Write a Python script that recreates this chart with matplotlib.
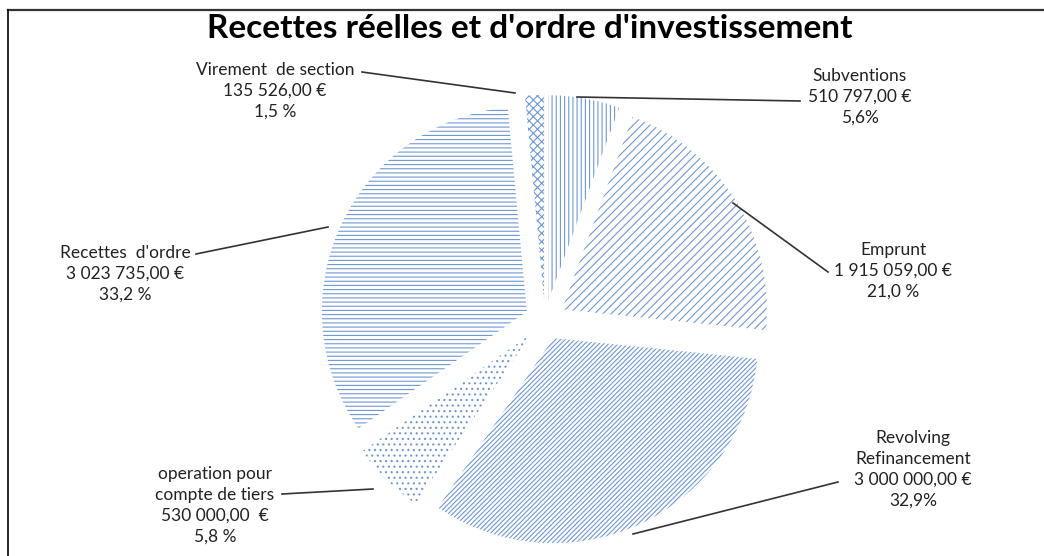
import matplotlib
matplotlib.use('Agg')
import matplotlib.pyplot as plt
from matplotlib.lines import Line2D

plt.rcParams['font.family'] = ['Lato', 'DejaVu Sans']
plt.rcParams['hatch.linewidth'] = 0.8

# Data (clockwise from 12 o'clock)
labels = ['Subventions', 'Emprunt', 'Revolving\nRefinancement',
          'operation pour\ncompte de tiers', "Recettes  d'ordre",
          'Virement  de section']
amounts = ['510 797,00 €', '1 915 059,00 €', '3 000 000,00 €',
           '530 000,00  €', '3 023 735,00 €', '135 526,00 €']
percents = ['5,6%', '21,0 %', '32,9%', '5,8 %', '33,2 %', '1,5 %']
values = [510797, 1915059, 3000000, 530000, 3023735, 135526]
hatches = ['||||', '////', '///////', '...', '----', 'xxxx']

blue = '#6f97d2'

W, H = 1044, 556
fig = plt.figure(figsize=(W / 100, H / 100), dpi=100)
ax = fig.add_axes([0, 0, 1, 1])

cx, cy, r = 545, H - 320, 205
wedges, _ = ax.pie(values, startangle=90, counterclock=False,
                   radius=r, center=(cx, cy), explode=[20] * len(values),
                   frame=True,
                   wedgeprops=dict(facecolor='white', edgecolor=blue, linewidth=0))
for w, h in zip(wedges, hatches):
    w.set_hatch(h)
ax.set_xlim(0, W)
ax.set_ylim(0, H)
ax.set_aspect('equal')
ax.axis('off')

# label positions (pixels from top-left) and leader lines
label_pos = [(860, 97), (893, 271), (913, 469), (215, 505), (125, 274), (275, 91)]
leaders = [((577, 97), (800, 101)),
           ((733, 203), (828, 272)),
           ((633, 534), (838, 482)),
           ((373, 489), (282, 494)),
           ((328, 227), (196, 254)),
           ((515, 93), (362, 72))]

for lab, amt, pct, (x, y), (p0, p1) in zip(labels, amounts, percents,
                                           label_pos, leaders):
    ax.text(x, H - y, lab + '\n' + amt + '\n' + pct, ha='center', va='center',
            fontsize=12.5, color='#222222', linespacing=1.38)
    ax.plot([p0[0], p1[0]], [H - p0[1], H - p1[1]], color='#333333', lw=1.2)

ax.text(530, H - 29, "Recettes réelles et d'ordre d'investissement",
        ha='center', va='center', fontsize=24, fontweight='bold', color='black')

# chart border
fig.add_artist(Line2D([8 / W, 1], [1 - 10 / H, 1 - 10 / H], color='#333333', lw=1.6,
                      transform=fig.transFigure))
fig.add_artist(Line2D([8 / W, 8 / W], [0, 1 - 10 / H], color='black', lw=1.2,
                      transform=fig.transFigure))

fig.savefig('out.png', dpi=100)
